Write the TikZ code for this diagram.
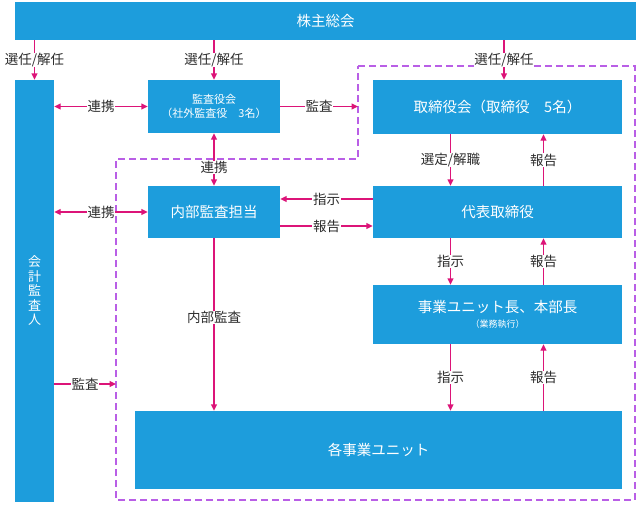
\documentclass[tikz,border=0pt]{standalone}
\usepackage{fontspec}
\setmainfont{Noto Sans CJK JP}
\usepackage{tikz}
\usetikzlibrary{shapes,arrows,arrows.meta,calc}
\definecolor{clrBox}{RGB}{29,157,220}
\definecolor{clrArrow}{RGB}{220,20,120}
\definecolor{clrDash}{RGB}{185,95,230}
\definecolor{clrLabel}{RGB}{45,45,45}
\tikzstyle{box_style}=[fill=clrBox, anchor=center, text centered, text=white, inner sep=0pt, font=\fontsize{14.5}{17}\selectfont]
\tikzstyle{box_small}=[box_style, font=\fontsize{11}{14}\selectfont]
\tikzstyle{myarrow}=[->, >={Triangle[length=6.5pt,width=6pt]}, line width=1.4pt, draw=clrArrow, fill=clrArrow]
\tikzstyle{myarrows}=[myarrow, <->]
\tikzstyle{lbl}=[fill=white, inner sep=0.6pt, text=clrLabel, font=\fontsize{13.5}{15}\selectfont]
\tikzstyle{frame}=[draw=clrDash, line width=1.4pt, dash pattern=on 7pt off 4pt]

\begin{document}
\begin{tikzpicture}[x=1pt, y=-1pt]
		\useasboundingbox (0,0) rectangle (637,504);

		% perimetre de l'execution (pointilles)
		\draw[frame] (358,66) -- (635,66) -- (635,500) -- (116,500) -- (116,159) -- (358,159) -- cycle;
		\coordinate (P) at (358,106.5);
		\coordinate (Q) at (116,384);

		\node[box_style, minimum width=621, minimum height=38] (A) at (325.5,21) {株主総会} ;

		\node[box_style, minimum width=39, minimum height=422, align=center,
			font=\fontsize{13}{14.5}\selectfont] (K) at (34.5,291) {会\\計\\監\\査\\人} ;
		\draw[myarrow] (A.south -| K) -- node[lbl] (l1) {選任/解任} (K.north) ;

		\node[box_small, minimum width=132, minimum height=53, align=center] (B) at (214,106.5) {監査役会\\（社外監査役　3名）} ;
		\draw[myarrow] (A.south -| B) -- node[lbl] (l2) {選任/解任} (B.north) ;
		\draw[myarrows] (K.east |- B) -- node[lbl] (l3) {連携} (B.west) ;
		\draw[myarrow] (B.east) -- node[lbl] (l4) {監査} (P) ;

		\node[box_style, minimum width=249, minimum height=54] (C) at (497.5,107) {取締役会（取締役　5名）} ;
		\draw[myarrow] ([xshift=6.5pt]C.north |- A.south) -- node[lbl] (l5) {選任/解任} ([xshift=6.5pt]C.north) ;

		\node[box_style, minimum width=132, minimum height=52] (D) at (214,212) {内部監査担当} ;
		\draw[myarrows] (B.south) -- node[lbl, pos=0.65] (l6) {連携} (D.north) ;
		\draw[myarrows] (K.east |- D) -- node[lbl] (l7) {連携} (D.west) ;

		\node[box_style, minimum width=249, minimum height=52] (E) at (497.5,212) {代表取締役} ;
		\draw[myarrow] ([xshift=-47pt]C.south) -- node[lbl] (l8) {選定/解職} ([xshift=-47pt]E.north) ;
		\draw[myarrow] ([xshift=46pt]E.north) -- node[lbl] (l9) {報告} ([xshift=46pt]C.south) ;
		\draw[myarrow] ([yshift=13pt]E.west) -- node[lbl] (l10) {指示} ([yshift=13pt]D.east) ;
		\draw[myarrow] ([yshift=-14pt]D.east) -- node[lbl] (l11) {報告} ([yshift=-14pt]E.west) ;

		\node[box_style, minimum width=249, minimum height=59, align=center] (F) at (497.5,314.5) {事業ユニット長、本部長\\[-2pt]{\fontsize{9}{11}\selectfont （業務執行）}} ;
		\draw[myarrow] ([xshift=-47pt]E.south) -- node[lbl] (l12) {指示} ([xshift=-47pt]F.north) ;
		\draw[myarrow] ([xshift=46pt]F.north) -- node[lbl] (l13) {報告} ([xshift=46pt]E.south) ;

		\node[box_style, minimum width=487, minimum height=78] (G) at (378.5,450) {各事業ユニット} ;
		\draw[myarrow] ([xshift=-47pt]F.south) -- node[lbl] (l14) {指示} ([xshift=-47pt]F.south |- G.north) ;
		\draw[myarrow] ([xshift=46pt]F.south |- G.north) -- node[lbl] (l15) {報告} ([xshift=46pt]F.south) ;
		\draw[myarrow] (D.south) -- node[lbl, pos=0.46] (l16) {内部監査} (D.south |- G.north) ;
		\draw[myarrow] (K.east |- Q) -- node[lbl] (l17) {監査} (Q) ;

	\end{tikzpicture}
\end{document}
